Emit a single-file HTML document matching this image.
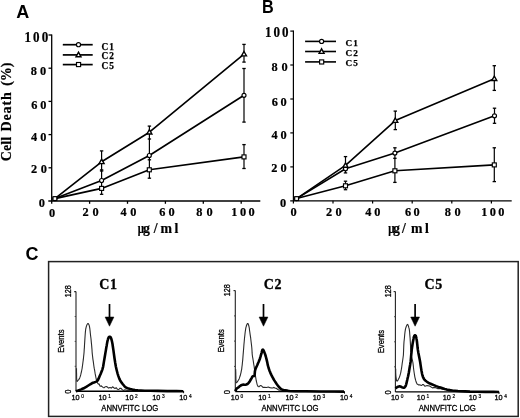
<!DOCTYPE html>
<html><head><meta charset="utf-8"><style>
html,body{margin:0;padding:0;background:#fff;width:520px;height:418px;overflow:hidden}
svg{display:block;will-change:transform;filter:blur(0.3px)}
text{-webkit-font-smoothing:antialiased}
</style></head><body>
<svg width="520" height="418" viewBox="0 0 520 418">
<rect width="520" height="418" fill="#fff"/>
<text x="16.2" y="18.2" font-family="'Liberation Sans',sans-serif" font-size="18" font-weight="bold">A</text>
<text transform="matrix(0.9,0,0,1,261.9,12.7)" font-family="'Liberation Sans',sans-serif" font-weight="bold" font-size="18">B</text>
<text x="25.5" y="259.5" font-family="'Liberation Sans',sans-serif" font-size="18" font-weight="bold">C</text>
<line x1="51.7" y1="34.4" x2="51.7" y2="203.8" stroke="#000" stroke-width="1.3"/>
<line x1="48.3" y1="201" x2="260.3" y2="201" stroke="#000" stroke-width="1.3"/>
<line x1="48.5" y1="167.8" x2="51.7" y2="167.8" stroke="#000" stroke-width="1.3"/>
<line x1="48.5" y1="134.6" x2="51.7" y2="134.6" stroke="#000" stroke-width="1.3"/>
<line x1="48.5" y1="101.4" x2="51.7" y2="101.4" stroke="#000" stroke-width="1.3"/>
<line x1="48.5" y1="68.2" x2="51.7" y2="68.2" stroke="#000" stroke-width="1.3"/>
<line x1="48.5" y1="35" x2="51.7" y2="35" stroke="#000" stroke-width="1.3"/>
<line x1="89.6" y1="201" x2="89.6" y2="203.8" stroke="#000" stroke-width="1.3"/>
<line x1="127.5" y1="201" x2="127.5" y2="203.8" stroke="#000" stroke-width="1.3"/>
<line x1="165.4" y1="201" x2="165.4" y2="203.8" stroke="#000" stroke-width="1.3"/>
<line x1="203.3" y1="201" x2="203.3" y2="203.8" stroke="#000" stroke-width="1.3"/>
<line x1="241.2" y1="201" x2="241.2" y2="203.8" stroke="#000" stroke-width="1.3"/>
<text transform="matrix(0.95,0,0,1,24.5,41.6)" font-family="'Liberation Serif',serif" font-weight="bold" font-size="13.8" letter-spacing="2.15" stroke="#000" stroke-width="0.22">100</text>
<text transform="matrix(0.95,0,0,1,30.8,74.8)" font-family="'Liberation Serif',serif" font-weight="bold" font-size="13.0" letter-spacing="3.3" stroke="#000" stroke-width="0.22">80</text>
<text transform="matrix(0.95,0,0,1,31.2,109.1)" font-family="'Liberation Serif',serif" font-weight="bold" font-size="13.0" letter-spacing="3.1" stroke="#000" stroke-width="0.22">60</text>
<text transform="matrix(0.95,0,0,1,31.1,140.5)" font-family="'Liberation Serif',serif" font-weight="bold" font-size="13.0" letter-spacing="3.15" stroke="#000" stroke-width="0.22">40</text>
<text transform="matrix(0.95,0,0,1,31.1,173.4)" font-family="'Liberation Serif',serif" font-weight="bold" font-size="13.0" letter-spacing="3.73" stroke="#000" stroke-width="0.22">20</text>
<text transform="matrix(0.95,0,0,1,38.7,207.2)" font-family="'Liberation Serif',serif" font-weight="bold" font-size="13.0" letter-spacing="0" stroke="#000" stroke-width="0.22">0</text>
<text transform="matrix(0.95,0,0,1,49,216.5)" font-family="'Liberation Serif',serif" font-weight="bold" font-size="13.0" letter-spacing="0" stroke="#000" stroke-width="0.22">0</text>
<text transform="matrix(0.95,0,0,1,82.5,216.2)" font-family="'Liberation Serif',serif" font-weight="bold" font-size="13.0" letter-spacing="4.15" stroke="#000" stroke-width="0.22">20</text>
<text transform="matrix(0.95,0,0,1,120.6,216.2)" font-family="'Liberation Serif',serif" font-weight="bold" font-size="13.0" letter-spacing="3.67" stroke="#000" stroke-width="0.22">40</text>
<text transform="matrix(0.95,0,0,1,159.2,216.2)" font-family="'Liberation Serif',serif" font-weight="bold" font-size="13.0" letter-spacing="3.31" stroke="#000" stroke-width="0.22">60</text>
<text transform="matrix(0.95,0,0,1,196.3,216.2)" font-family="'Liberation Serif',serif" font-weight="bold" font-size="13.0" letter-spacing="4.14" stroke="#000" stroke-width="0.22">80</text>
<text transform="matrix(0.95,0,0,1,231.3,216.3)" font-family="'Liberation Serif',serif" font-weight="bold" font-size="13.0" letter-spacing="2.6" stroke="#000" stroke-width="0.22">100</text>
<text x="10.9" y="161.3" font-family="'Liberation Serif',serif" font-size="14" font-weight="bold" letter-spacing="0.1" transform="rotate(-90 10.9 161.3)" stroke="#000" stroke-width="0.2">Cell</text>
<text x="10.9" y="131.6" font-family="'Liberation Serif',serif" font-size="14" font-weight="bold" letter-spacing="0.9" transform="rotate(-90 10.9 131.6)" stroke="#000" stroke-width="0.2">Death</text>
<text x="10.9" y="85.8" font-family="'Liberation Serif',serif" font-size="14" font-weight="bold" transform="rotate(-90 10.9 85.8)" stroke="#000" stroke-width="0.2">(%)</text>
<text transform="matrix(0.8,0,0,1,137.7,233.4)" font-family="'Liberation Serif',serif" font-weight="bold" font-size="13.8" stroke="#000" stroke-width="0.2">&#956;</text>
<text transform="matrix(1,0,0,1,142.9,233.4)" font-family="'Liberation Serif',serif" font-weight="bold" font-size="13.8" stroke="#000" stroke-width="0.2">g</text>
<text transform="matrix(1,0,0,1,153.8,233.4)" font-family="'Liberation Serif',serif" font-weight="bold" font-size="13.8" stroke="#000" stroke-width="0.2">/</text>
<text transform="matrix(1,0,0,1,160.5,233.4)" font-family="'Liberation Serif',serif" font-weight="bold" font-size="13.8" stroke="#000" stroke-width="0.2">m</text>
<text transform="matrix(1,0,0,1,174.6,233.4)" font-family="'Liberation Serif',serif" font-weight="bold" font-size="13.8" stroke="#000" stroke-width="0.2">l</text>
<line x1="101.6" y1="150.9" x2="101.6" y2="194.3" stroke="#000" stroke-width="1.2"/>
<line x1="99.9" y1="150.9" x2="103.3" y2="150.9" stroke="#000" stroke-width="1.3"/>
<line x1="99.9" y1="169.9" x2="103.3" y2="169.9" stroke="#000" stroke-width="1.3"/>
<line x1="99.9" y1="171" x2="103.3" y2="171" stroke="#000" stroke-width="1.3"/>
<line x1="99.9" y1="194.3" x2="103.3" y2="194.3" stroke="#000" stroke-width="1.3"/>
<line x1="149.4" y1="126.1" x2="149.4" y2="178.2" stroke="#000" stroke-width="1.2"/>
<line x1="147.7" y1="126.1" x2="151.1" y2="126.1" stroke="#000" stroke-width="1.3"/>
<line x1="147.7" y1="139" x2="151.1" y2="139" stroke="#000" stroke-width="1.3"/>
<line x1="147.7" y1="159.8" x2="151.1" y2="159.8" stroke="#000" stroke-width="1.3"/>
<line x1="147.7" y1="178.2" x2="151.1" y2="178.2" stroke="#000" stroke-width="1.3"/>
<line x1="244" y1="44.4" x2="244" y2="62.1" stroke="#000" stroke-width="1.2"/>
<line x1="242.3" y1="44.4" x2="245.7" y2="44.4" stroke="#000" stroke-width="1.3"/>
<line x1="242.3" y1="62.1" x2="245.7" y2="62.1" stroke="#000" stroke-width="1.3"/>
<line x1="244" y1="68.5" x2="244" y2="122.1" stroke="#000" stroke-width="1.2"/>
<line x1="242.3" y1="68.5" x2="245.7" y2="68.5" stroke="#000" stroke-width="1.3"/>
<line x1="242.3" y1="122.1" x2="245.7" y2="122.1" stroke="#000" stroke-width="1.3"/>
<line x1="244" y1="144.6" x2="244" y2="168.5" stroke="#000" stroke-width="1.2"/>
<line x1="242.3" y1="144.6" x2="245.7" y2="144.6" stroke="#000" stroke-width="1.3"/>
<line x1="242.3" y1="168.5" x2="245.7" y2="168.5" stroke="#000" stroke-width="1.3"/>
<path d="M54.9,198.6 L101.6,161.8 L149.4,132.2 L244,54.1" stroke="#000" stroke-width="1.65" fill="none" stroke-linejoin="round"/>
<path d="M54.9,198.6 L101.6,180.5 L149.3,155.5 L244,95.3" stroke="#000" stroke-width="1.65" fill="none" stroke-linejoin="round"/>
<path d="M54.9,198.6 L101.6,188.4 L149.3,169.8 L244,156.9" stroke="#000" stroke-width="1.65" fill="none" stroke-linejoin="round"/>
<rect x="99.6" y="186.4" width="4" height="4" fill="#fff" stroke="#000" stroke-width="1.15"/>
<rect x="147.3" y="167.8" width="4" height="4" fill="#fff" stroke="#000" stroke-width="1.15"/>
<rect x="242" y="154.9" width="4" height="4" fill="#fff" stroke="#000" stroke-width="1.15"/>
<circle cx="101.6" cy="180.5" r="2.0" fill="#fff" stroke="#000" stroke-width="1.15"/>
<circle cx="149.3" cy="155.5" r="2.0" fill="#fff" stroke="#000" stroke-width="1.15"/>
<circle cx="244" cy="95.3" r="2.0" fill="#fff" stroke="#000" stroke-width="1.15"/>
<path d="M101.6,159.2 L104.1,163.6 L99.1,163.6 Z" fill="#fff" stroke="#000" stroke-width="1.38" stroke-linejoin="miter"/>
<path d="M149.4,129.6 L151.9,134 L146.9,134 Z" fill="#fff" stroke="#000" stroke-width="1.38" stroke-linejoin="miter"/>
<path d="M244,51.5 L246.5,55.9 L241.5,55.9 Z" fill="#fff" stroke="#000" stroke-width="1.38" stroke-linejoin="miter"/>
<circle cx="54.9" cy="198.6" r="2.1" fill="#fff" stroke="#000" stroke-width="1.15"/>
<rect x="53" y="196.7" width="3.8" height="3.8" fill="#fff" stroke="#000" stroke-width="1.15"/>
<line x1="62.8" y1="44.7" x2="92.7" y2="44.7" stroke="#000" stroke-width="1.7"/>
<circle cx="78.5" cy="44.7" r="2.05" fill="#fff" stroke="#000" stroke-width="1.15"/>
<text x="101.6" y="49.8" font-family="'Liberation Serif',serif" font-size="9.3" font-weight="bold" letter-spacing="0.9" stroke="#000" stroke-width="0.25">C1</text>
<line x1="62.8" y1="54.9" x2="92.7" y2="54.9" stroke="#000" stroke-width="1.7"/>
<path d="M78.5,52.2 L81,56.8 L76,56.8 Z" fill="#fff" stroke="#000" stroke-width="1.38" stroke-linejoin="miter"/>
<text x="101.6" y="59" font-family="'Liberation Serif',serif" font-size="9.3" font-weight="bold" letter-spacing="0.9" stroke="#000" stroke-width="0.25">C2</text>
<line x1="62.8" y1="64.6" x2="92.7" y2="64.6" stroke="#000" stroke-width="1.7"/>
<rect x="76.5" y="62.5" width="4.1" height="4.1" fill="#fff" stroke="#000" stroke-width="1.15"/>
<text x="101.6" y="69" font-family="'Liberation Serif',serif" font-size="9.3" font-weight="bold" letter-spacing="0.9" stroke="#000" stroke-width="0.25">C5</text>
<line x1="293.4" y1="30.4" x2="293.4" y2="203.6" stroke="#000" stroke-width="1.2"/>
<line x1="290.2" y1="200.8" x2="511.7" y2="200.8" stroke="#000" stroke-width="1.2"/>
<line x1="290.3" y1="166.9" x2="293.4" y2="166.9" stroke="#000" stroke-width="1.2"/>
<line x1="290.3" y1="132.9" x2="293.4" y2="132.9" stroke="#000" stroke-width="1.2"/>
<line x1="290.3" y1="99" x2="293.4" y2="99" stroke="#000" stroke-width="1.2"/>
<line x1="290.3" y1="65" x2="293.4" y2="65" stroke="#000" stroke-width="1.2"/>
<line x1="290.3" y1="31.1" x2="293.4" y2="31.1" stroke="#000" stroke-width="1.2"/>
<line x1="333" y1="200.8" x2="333" y2="203.6" stroke="#000" stroke-width="1.2"/>
<line x1="372.6" y1="200.8" x2="372.6" y2="203.6" stroke="#000" stroke-width="1.2"/>
<line x1="412.2" y1="200.8" x2="412.2" y2="203.6" stroke="#000" stroke-width="1.2"/>
<line x1="451.8" y1="200.8" x2="451.8" y2="203.6" stroke="#000" stroke-width="1.2"/>
<line x1="491.4" y1="200.8" x2="491.4" y2="203.6" stroke="#000" stroke-width="1.2"/>
<text transform="matrix(0.95,0,0,1,265,37.2)" font-family="'Liberation Serif',serif" font-weight="bold" font-size="13.7" letter-spacing="2.11" stroke="#000" stroke-width="0.22">100</text>
<text transform="matrix(0.95,0,0,1,271.4,71)" font-family="'Liberation Serif',serif" font-weight="bold" font-size="13.0" letter-spacing="4.14" stroke="#000" stroke-width="0.22">80</text>
<text transform="matrix(0.95,0,0,1,271.7,106.2)" font-family="'Liberation Serif',serif" font-weight="bold" font-size="13.0" letter-spacing="2.89" stroke="#000" stroke-width="0.22">60</text>
<text transform="matrix(0.95,0,0,1,271.5,138.9)" font-family="'Liberation Serif',serif" font-weight="bold" font-size="13.0" letter-spacing="3.04" stroke="#000" stroke-width="0.22">40</text>
<text transform="matrix(0.95,0,0,1,271.2,172.3)" font-family="'Liberation Serif',serif" font-weight="bold" font-size="13.0" letter-spacing="3.41" stroke="#000" stroke-width="0.22">20</text>
<text transform="matrix(0.95,0,0,1,279.9,207.2)" font-family="'Liberation Serif',serif" font-weight="bold" font-size="13.0" letter-spacing="0" stroke="#000" stroke-width="0.22">0</text>
<text transform="matrix(0.95,0,0,1,290.5,216)" font-family="'Liberation Serif',serif" font-weight="bold" font-size="13.0" letter-spacing="0" stroke="#000" stroke-width="0.22">0</text>
<text transform="matrix(0.95,0,0,1,326,215.9)" font-family="'Liberation Serif',serif" font-weight="bold" font-size="13.0" letter-spacing="3.51" stroke="#000" stroke-width="0.22">20</text>
<text transform="matrix(0.95,0,0,1,365.2,216.4)" font-family="'Liberation Serif',serif" font-weight="bold" font-size="13.0" letter-spacing="3.04" stroke="#000" stroke-width="0.22">40</text>
<text transform="matrix(0.95,0,0,1,405,216.4)" font-family="'Liberation Serif',serif" font-weight="bold" font-size="13.0" letter-spacing="2.47" stroke="#000" stroke-width="0.22">60</text>
<text transform="matrix(0.95,0,0,1,444.8,216.1)" font-family="'Liberation Serif',serif" font-weight="bold" font-size="13.0" letter-spacing="3.82" stroke="#000" stroke-width="0.22">80</text>
<text transform="matrix(0.95,0,0,1,481.3,215.8)" font-family="'Liberation Serif',serif" font-weight="bold" font-size="13.0" letter-spacing="2.44" stroke="#000" stroke-width="0.22">100</text>
<text transform="matrix(0.8,0,0,1,388.2,232.6)" font-family="'Liberation Serif',serif" font-weight="bold" font-size="13.8" stroke="#000" stroke-width="0.2">&#956;</text>
<text transform="matrix(1,0,0,1,393,232.6)" font-family="'Liberation Serif',serif" font-weight="bold" font-size="13.8" stroke="#000" stroke-width="0.2">g</text>
<text transform="matrix(1,0,0,1,401.9,232.6)" font-family="'Liberation Serif',serif" font-weight="bold" font-size="13.8" stroke="#000" stroke-width="0.2">/</text>
<text transform="matrix(1,0,0,1,411,232.6)" font-family="'Liberation Serif',serif" font-weight="bold" font-size="13.8" stroke="#000" stroke-width="0.2">m</text>
<text transform="matrix(1,0,0,1,425,232.6)" font-family="'Liberation Serif',serif" font-weight="bold" font-size="13.8" stroke="#000" stroke-width="0.2">l</text>
<line x1="345.5" y1="156.6" x2="345.5" y2="173" stroke="#000" stroke-width="1.2"/>
<line x1="343.8" y1="156.6" x2="347.2" y2="156.6" stroke="#000" stroke-width="1.3"/>
<line x1="343.8" y1="172.9" x2="347.2" y2="172.9" stroke="#000" stroke-width="1.3"/>
<line x1="345.5" y1="181.2" x2="345.5" y2="189.7" stroke="#000" stroke-width="1.2"/>
<line x1="343.8" y1="181.2" x2="347.2" y2="181.2" stroke="#000" stroke-width="1.3"/>
<line x1="343.8" y1="189.7" x2="347.2" y2="189.7" stroke="#000" stroke-width="1.3"/>
<line x1="395.3" y1="111.1" x2="395.3" y2="129.6" stroke="#000" stroke-width="1.2"/>
<line x1="393.6" y1="111.1" x2="397" y2="111.1" stroke="#000" stroke-width="1.3"/>
<line x1="393.6" y1="129.6" x2="397" y2="129.6" stroke="#000" stroke-width="1.3"/>
<line x1="394.9" y1="147.8" x2="394.9" y2="182.4" stroke="#000" stroke-width="1.2"/>
<line x1="393.2" y1="147.8" x2="396.6" y2="147.8" stroke="#000" stroke-width="1.3"/>
<line x1="393.2" y1="158.3" x2="396.6" y2="158.3" stroke="#000" stroke-width="1.3"/>
<line x1="393.2" y1="182.4" x2="396.6" y2="182.4" stroke="#000" stroke-width="1.3"/>
<line x1="494.3" y1="65.7" x2="494.3" y2="90.4" stroke="#000" stroke-width="1.2"/>
<line x1="492.6" y1="65.7" x2="496" y2="65.7" stroke="#000" stroke-width="1.3"/>
<line x1="492.6" y1="90.4" x2="496" y2="90.4" stroke="#000" stroke-width="1.3"/>
<line x1="494.5" y1="108.2" x2="494.5" y2="123.3" stroke="#000" stroke-width="1.2"/>
<line x1="492.8" y1="108.2" x2="496.2" y2="108.2" stroke="#000" stroke-width="1.3"/>
<line x1="492.8" y1="123.3" x2="496.2" y2="123.3" stroke="#000" stroke-width="1.3"/>
<line x1="494.3" y1="147.8" x2="494.3" y2="181.6" stroke="#000" stroke-width="1.2"/>
<line x1="492.6" y1="147.8" x2="496" y2="147.8" stroke="#000" stroke-width="1.3"/>
<line x1="492.6" y1="181.6" x2="496" y2="181.6" stroke="#000" stroke-width="1.3"/>
<path d="M296.6,198.6 L345.5,165.4 L395.3,120.6 L494.3,78.7" stroke="#000" stroke-width="1.6" fill="none" stroke-linejoin="round"/>
<path d="M296.6,198.6 L345.5,168.7 L394.9,153.1 L494.5,115.8" stroke="#000" stroke-width="1.6" fill="none" stroke-linejoin="round"/>
<path d="M296.6,198.6 L345.5,185.8 L394.9,170.8 L494.3,164.9" stroke="#000" stroke-width="1.6" fill="none" stroke-linejoin="round"/>
<rect x="343.5" y="183.8" width="4" height="4" fill="#fff" stroke="#000" stroke-width="1.15"/>
<rect x="392.9" y="168.8" width="4" height="4" fill="#fff" stroke="#000" stroke-width="1.15"/>
<rect x="492.3" y="162.9" width="4" height="4" fill="#fff" stroke="#000" stroke-width="1.15"/>
<circle cx="345.5" cy="168.7" r="2.0" fill="#fff" stroke="#000" stroke-width="1.15"/>
<circle cx="394.9" cy="153.1" r="2.0" fill="#fff" stroke="#000" stroke-width="1.15"/>
<circle cx="494.5" cy="115.8" r="2.0" fill="#fff" stroke="#000" stroke-width="1.15"/>
<path d="M345.5,162.8 L348,167.2 L343,167.2 Z" fill="#fff" stroke="#000" stroke-width="1.38" stroke-linejoin="miter"/>
<path d="M395.3,118 L397.8,122.4 L392.8,122.4 Z" fill="#fff" stroke="#000" stroke-width="1.38" stroke-linejoin="miter"/>
<path d="M494.3,76.1 L496.8,80.5 L491.8,80.5 Z" fill="#fff" stroke="#000" stroke-width="1.38" stroke-linejoin="miter"/>
<circle cx="296.6" cy="198.6" r="2.1" fill="#fff" stroke="#000" stroke-width="1.15"/>
<rect x="294.7" y="196.7" width="3.8" height="3.8" fill="#fff" stroke="#000" stroke-width="1.15"/>
<line x1="305.1" y1="41.4" x2="336" y2="41.4" stroke="#000" stroke-width="1.6"/>
<circle cx="321.6" cy="41.4" r="2.05" fill="#fff" stroke="#000" stroke-width="1.15"/>
<text x="345.6" y="46.3" font-family="'Liberation Serif',serif" font-size="9.2" font-weight="bold" letter-spacing="0.9" stroke="#000" stroke-width="0.25">C1</text>
<line x1="305.1" y1="51.5" x2="336" y2="51.5" stroke="#000" stroke-width="1.6"/>
<path d="M321.6,48.8 L324.1,53.4 L319.1,53.4 Z" fill="#fff" stroke="#000" stroke-width="1.38" stroke-linejoin="miter"/>
<text x="345.6" y="55.9" font-family="'Liberation Serif',serif" font-size="9.2" font-weight="bold" letter-spacing="0.9" stroke="#000" stroke-width="0.25">C2</text>
<line x1="305.1" y1="61.9" x2="336" y2="61.9" stroke="#000" stroke-width="1.6"/>
<rect x="319.6" y="59.9" width="4.1" height="4.1" fill="#fff" stroke="#000" stroke-width="1.15"/>
<text x="345.6" y="66" font-family="'Liberation Serif',serif" font-size="9.2" font-weight="bold" letter-spacing="0.9" stroke="#000" stroke-width="0.25">C5</text>
<rect x="48.6" y="261.6" width="469.6" height="154.8" fill="none" stroke="#222" stroke-width="1.5"/>
<line x1="76" y1="291.6" x2="76" y2="391.2" stroke="#222" stroke-width="1.1"/>
<line x1="74.2" y1="291.6" x2="76" y2="291.6" stroke="#222" stroke-width="1.1"/>
<line x1="74.7" y1="316.5" x2="76" y2="316.5" stroke="#444" stroke-width="1.0"/>
<line x1="74.7" y1="341.4" x2="76" y2="341.4" stroke="#444" stroke-width="1.0"/>
<line x1="74.7" y1="366.3" x2="76" y2="366.3" stroke="#444" stroke-width="1.0"/>
<line x1="76" y1="391.2" x2="183.6" y2="391.2" stroke="#000" stroke-width="1.4"/>
<line x1="183.6" y1="391" x2="183.6" y2="393.2" stroke="#000" stroke-width="1.0"/>
<text transform="translate(71.1,297.2) rotate(-90) scale(0.86,1)" font-family="'Liberation Sans',sans-serif" font-size="8.4" stroke="#000" stroke-width="0.3">128</text>
<text transform="translate(71.1,393.8) rotate(-90) scale(0.9,1)" font-family="'Liberation Sans',sans-serif" font-size="8.4" stroke="#000" stroke-width="0.3">0</text>
<text transform="translate(64.3,341.2) rotate(-90) scale(0.92,1)" text-anchor="middle" font-family="'Liberation Sans',sans-serif" font-size="8.3" stroke="#000" stroke-width="0.3">Events</text>
<text x="75.6" y="400.4" font-family="'Liberation Sans',sans-serif" font-size="7.3" text-anchor="middle" stroke="#000" stroke-width="0.3">10</text>
<text x="81.3" y="397.6" font-family="'Liberation Sans',sans-serif" font-size="4.8" stroke="#000" stroke-width="0.2">0</text>
<text x="102.5" y="400.4" font-family="'Liberation Sans',sans-serif" font-size="7.3" text-anchor="middle" stroke="#000" stroke-width="0.3">10</text>
<text x="108.2" y="397.6" font-family="'Liberation Sans',sans-serif" font-size="4.8" stroke="#000" stroke-width="0.2">1</text>
<text x="129.4" y="400.4" font-family="'Liberation Sans',sans-serif" font-size="7.3" text-anchor="middle" stroke="#000" stroke-width="0.3">10</text>
<text x="135.1" y="397.6" font-family="'Liberation Sans',sans-serif" font-size="4.8" stroke="#000" stroke-width="0.2">2</text>
<text x="156.3" y="400.4" font-family="'Liberation Sans',sans-serif" font-size="7.3" text-anchor="middle" stroke="#000" stroke-width="0.3">10</text>
<text x="162" y="397.6" font-family="'Liberation Sans',sans-serif" font-size="4.8" stroke="#000" stroke-width="0.2">3</text>
<text x="183.2" y="400.4" font-family="'Liberation Sans',sans-serif" font-size="7.3" text-anchor="middle" stroke="#000" stroke-width="0.3">10</text>
<text x="188.9" y="397.6" font-family="'Liberation Sans',sans-serif" font-size="4.8" stroke="#000" stroke-width="0.2">4</text>
<text x="129.8" y="411.4" font-family="'Liberation Sans',sans-serif" font-size="8.4" text-anchor="middle" textLength="57" lengthAdjust="spacingAndGlyphs" stroke="#000" stroke-width="0.3">ANNVFITC LOG</text>
<text x="99.2" y="288.8" font-family="'Liberation Serif',serif" font-size="14" font-weight="bold" letter-spacing="0.6" stroke="#000" stroke-width="0.3">C1</text>
<line x1="109.5" y1="304" x2="109.5" y2="318" stroke="#000" stroke-width="1.7"/>
<path d="M105.1,317 L113.9,317 L109.5,326.2 Z" stroke="#000" stroke-width="0.5" fill="#000" stroke-linejoin="round"/>
<path d="M76.5,368.3 L76.5,369.7 L76.5,371.8 L76.6,374.1 L76.6,376 L76.6,377.6 L76.7,379.1 L76.8,380.4 L76.9,381.2 L77.1,381.5 L77.2,381.4 L77.5,381 L77.8,380.6 L78.2,380.2 L78.7,379.6 L79.2,378.9 L79.7,377.9 L80.2,376.6 L80.7,374.9 L81.1,373.2 L81.5,371.5 L81.8,370 L82.1,368.5 L82.3,366.9 L82.6,365 L82.9,362.5 L83.3,359.7 L83.6,356.7 L83.9,354 L84.1,351.7 L84.2,349.6 L84.4,347.4 L84.5,345 L84.7,342.1 L84.9,338.8 L85.1,335.7 L85.3,333 L85.5,330.9 L85.7,329.2 L86,327.8 L86.3,326.6 L86.7,325.4 L87.1,324.5 L87.6,323.8 L88,323.5 L88.4,323.8 L88.8,324.5 L89.2,325.4 L89.5,326.6 L89.7,327.8 L89.9,329.2 L90.1,330.9 L90.3,333 L90.6,335.7 L91,338.8 L91.3,342.1 L91.6,345 L91.8,347.4 L92,349.6 L92.1,351.8 L92.3,354 L92.6,356.5 L92.9,359.1 L93.3,361.6 L93.6,364 L93.9,366.2 L94.2,368.2 L94.6,370.1 L94.9,372 L95.2,373.9 L95.6,375.8 L95.9,377.5 L96.2,379 L96.5,380.2 L96.8,381.1 L97,381.8 L97.3,382.5 L97.6,383 L97.8,383.4 L98.2,383.8 L98.6,384.2 L99.2,384 L99.9,385.9 L100.6,386.2 L101.3,385.8 L101.9,386.6 L102.4,386.8 L103.1,387.4 L104,387.8 L105.3,386.7 L106.9,386.6 L108.5,388.1 L110,387.4 L111.3,388.1 L112.6,386.8 L113.8,387.7 L115,388.4 L116.2,387.7 L117.5,389.3 L118.8,389.5 L120,388.2 L121.1,388.4 L122.2,389.6 L123.4,390.6 L125,389.8 L126.3,390.2 L127.3,390.4 L129.7,390.6 L135,390.8 L145.5,390.9 L159.6,391.1 L173.5,391.1 L183,391.2" stroke="#2a2a2a" stroke-width="1.1" fill="none" stroke-linejoin="round"/>
<path d="M75.8,391.2 L76.8,390.9 L78.2,390.5 L79.8,389.9 L81.2,389.4 L82.5,388.8 L83.7,388.3 L84.9,387.6 L86.2,386.9 L87.6,386 L89.1,385 L90.6,384.1 L91.9,383.3 L93,382.8 L93.9,382.5 L94.7,382.2 L95.5,381.9 L96.2,381.6 L96.7,381.3 L97.2,381 L97.7,380.4 L98.2,379.5 L98.7,378.4 L99.2,377.2 L99.8,375.8 L100.5,374.3 L101.2,372.5 L101.9,370.8 L102.4,369.3 L102.7,368.3 L102.9,367.7 L103.1,366.8 L103.4,365 L103.9,361.9 L104.6,357.8 L105.3,353.6 L105.9,350.1 L106.3,347.5 L106.7,345.4 L107,343.6 L107.3,342 L107.6,340.6 L107.9,339.6 L108.1,338.7 L108.4,338 L108.7,337.4 L109,337 L109.4,336.8 L109.7,336.7 L110,336.8 L110.4,337 L110.7,337.4 L111,338 L111.3,338.8 L111.6,339.9 L111.9,341.1 L112.2,342.5 L112.5,344 L112.7,345.5 L113,347.5 L113.4,350.1 L113.9,353.8 L114.5,358.2 L115.2,362.8 L115.9,366.8 L116.7,370.2 L117.5,373.3 L118.4,376.1 L119.3,378.6 L120.3,380.7 L121.4,382.4 L122.5,383.8 L123.5,385 L124.3,386 L125,386.8 L125.8,387.4 L127,388 L128.5,388.6 L130.3,389.1 L132.4,389.6 L135,390 L137.8,390.3 L140.9,390.5 L144.8,390.7 L150,390.8 L157.8,390.9 L167.4,391.1 L176.6,391.1 L183,391.2" stroke="#000" stroke-width="2.6" fill="none" stroke-linejoin="round"/>
<line x1="235.3" y1="290.6" x2="235.3" y2="391.6" stroke="#222" stroke-width="1.1"/>
<line x1="233.5" y1="290.6" x2="235.3" y2="290.6" stroke="#222" stroke-width="1.1"/>
<line x1="234" y1="315.9" x2="235.3" y2="315.9" stroke="#444" stroke-width="1.0"/>
<line x1="234" y1="341.1" x2="235.3" y2="341.1" stroke="#444" stroke-width="1.0"/>
<line x1="234" y1="366.4" x2="235.3" y2="366.4" stroke="#444" stroke-width="1.0"/>
<line x1="235.3" y1="391.6" x2="344.5" y2="391.6" stroke="#000" stroke-width="1.4"/>
<line x1="344.5" y1="391.4" x2="344.5" y2="393.6" stroke="#000" stroke-width="1.0"/>
<text transform="translate(230.4,296.2) rotate(-90) scale(0.86,1)" font-family="'Liberation Sans',sans-serif" font-size="8.4" stroke="#000" stroke-width="0.3">128</text>
<text transform="translate(230.4,394.2) rotate(-90) scale(0.9,1)" font-family="'Liberation Sans',sans-serif" font-size="8.4" stroke="#000" stroke-width="0.3">0</text>
<text transform="translate(223.6,340.9) rotate(-90) scale(0.92,1)" text-anchor="middle" font-family="'Liberation Sans',sans-serif" font-size="8.3" stroke="#000" stroke-width="0.3">Events</text>
<text x="234.9" y="400.4" font-family="'Liberation Sans',sans-serif" font-size="7.3" text-anchor="middle" stroke="#000" stroke-width="0.3">10</text>
<text x="240.6" y="397.6" font-family="'Liberation Sans',sans-serif" font-size="4.8" stroke="#000" stroke-width="0.2">0</text>
<text x="262.2" y="400.4" font-family="'Liberation Sans',sans-serif" font-size="7.3" text-anchor="middle" stroke="#000" stroke-width="0.3">10</text>
<text x="267.9" y="397.6" font-family="'Liberation Sans',sans-serif" font-size="4.8" stroke="#000" stroke-width="0.2">1</text>
<text x="289.5" y="400.4" font-family="'Liberation Sans',sans-serif" font-size="7.3" text-anchor="middle" stroke="#000" stroke-width="0.3">10</text>
<text x="295.2" y="397.6" font-family="'Liberation Sans',sans-serif" font-size="4.8" stroke="#000" stroke-width="0.2">2</text>
<text x="316.8" y="400.4" font-family="'Liberation Sans',sans-serif" font-size="7.3" text-anchor="middle" stroke="#000" stroke-width="0.3">10</text>
<text x="322.5" y="397.6" font-family="'Liberation Sans',sans-serif" font-size="4.8" stroke="#000" stroke-width="0.2">3</text>
<text x="344.1" y="400.4" font-family="'Liberation Sans',sans-serif" font-size="7.3" text-anchor="middle" stroke="#000" stroke-width="0.3">10</text>
<text x="349.8" y="397.6" font-family="'Liberation Sans',sans-serif" font-size="4.8" stroke="#000" stroke-width="0.2">4</text>
<text x="289.9" y="411.4" font-family="'Liberation Sans',sans-serif" font-size="8.4" text-anchor="middle" textLength="57" lengthAdjust="spacingAndGlyphs" stroke="#000" stroke-width="0.3">ANNVFITC LOG</text>
<text x="263.8" y="288.8" font-family="'Liberation Serif',serif" font-size="14" font-weight="bold" letter-spacing="0.6" stroke="#000" stroke-width="0.3">C2</text>
<line x1="263.5" y1="304" x2="263.5" y2="318" stroke="#000" stroke-width="1.7"/>
<path d="M259.1,317 L267.9,317 L263.5,326.2 Z" stroke="#000" stroke-width="0.5" fill="#000" stroke-linejoin="round"/>
<path d="M235.7,369.2 L235.7,370.7 L235.8,372.8 L235.8,375 L235.9,377 L235.9,378.7 L236,380.4 L236,381.7 L236.2,382.6 L236.5,382.8 L236.8,382.5 L237.2,382 L237.6,381.4 L238,380.8 L238.4,380.2 L238.9,379.4 L239.3,378.4 L239.7,377.2 L240.2,375.8 L240.6,374.2 L241,372.6 L241.3,370.9 L241.7,369.1 L241.9,367.1 L242.2,365 L242.4,362.7 L242.7,360.1 L242.9,357.6 L243.1,355 L243.3,352.6 L243.5,350.2 L243.7,347.7 L243.9,345 L244.2,341.8 L244.5,338.2 L244.9,334.8 L245.2,332 L245.5,330.1 L245.7,328.7 L245.9,327.6 L246.2,326.6 L246.5,325.5 L246.9,324.5 L247.3,323.8 L247.7,323.5 L248.1,323.8 L248.4,324.5 L248.7,325.5 L249,326.6 L249.2,327.6 L249.4,328.7 L249.5,330.1 L249.8,332 L250.2,334.8 L250.7,338.2 L251.1,341.8 L251.5,345 L251.8,347.8 L252,350.5 L252.1,352.9 L252.3,355 L252.5,356.5 L252.7,357.6 L252.9,358.6 L253.1,360 L253.4,361.9 L253.7,364 L254.1,366.2 L254.4,368.4 L254.7,370.5 L255,372.7 L255.3,374.8 L255.6,376.8 L255.9,378.7 L256.2,380.5 L256.6,382.2 L256.9,383.5 L257.1,384.4 L257.3,384.9 L257.5,385.2 L258.1,386.4 L259,386.8 L260.2,385.5 L261.5,385.8 L263,387.4 L264.6,387.4 L266.5,387.5 L268.3,387 L270,387.7 L271.4,387.9 L272.6,388 L273.8,387.4 L275,388.1 L276.2,388.3 L277.5,389.2 L278.8,390.1 L280,390.3 L281,389.9 L281.9,389.9 L283,389.9 L285,389.7 L287.4,389.9 L290.1,390.9 L294,391.1 L300,391.3 L310,391.4 L322.9,391.5 L335.4,391.6 L344,391.6" stroke="#2a2a2a" stroke-width="1.1" fill="none" stroke-linejoin="round"/>
<path d="M235.5,391.2 L235.6,390.8 L235.9,390.1 L236.1,389.5 L236.4,388.9 L236.7,388.5 L237.1,388.3 L237.5,388 L238,387.7 L238.5,387.3 L239,386.9 L239.5,386.4 L240.1,386 L240.7,385.6 L241.3,385.2 L241.9,384.9 L242.6,384.7 L243.3,384.6 L244.1,384.7 L244.9,384.8 L245.6,384.7 L246.3,384.5 L246.9,384.3 L247.5,384 L248.1,383.5 L248.6,382.9 L249.2,382.2 L249.7,381.4 L250.2,380.5 L250.8,379.5 L251.5,378.3 L252.1,377.1 L252.7,376.3 L253.2,376 L253.7,376 L254.1,376 L254.4,375.5 L254.6,374.4 L254.8,373 L254.9,371.4 L255.2,370 L255.6,368.7 L256.1,367.5 L256.7,366.3 L257.3,365 L257.9,363.5 L258.6,362 L259.2,360.5 L259.8,359 L260.2,357.7 L260.6,356.4 L260.9,355.2 L261.3,354 L261.7,352.6 L262,351.1 L262.4,349.9 L262.9,349.6 L263.5,350.4 L264.3,352.1 L265.1,354.2 L265.8,356.5 L266.5,359.1 L267.2,362.1 L267.8,365.2 L268.6,368 L269.4,370.4 L270.3,372.6 L271.2,374.6 L272.2,376.6 L273.2,378.5 L274.3,380.4 L275.4,382.1 L276.5,383.7 L277.6,385.2 L278.7,386.6 L279.7,387.8 L280.8,388.8 L281.7,389.4 L282.5,389.8 L283.5,390.1 L285,390.3 L286.2,390.6 L287.2,390.8 L289.6,391 L295,391.2 L305.7,391.3 L320.1,391.5 L334.3,391.5 L344,391.6" stroke="#000" stroke-width="2.6" fill="none" stroke-linejoin="round"/>
<line x1="395.4" y1="291.6" x2="395.4" y2="391.9" stroke="#222" stroke-width="1.1"/>
<line x1="393.6" y1="291.6" x2="395.4" y2="291.6" stroke="#222" stroke-width="1.1"/>
<line x1="394.1" y1="316.7" x2="395.4" y2="316.7" stroke="#444" stroke-width="1.0"/>
<line x1="394.1" y1="341.8" x2="395.4" y2="341.8" stroke="#444" stroke-width="1.0"/>
<line x1="394.1" y1="366.8" x2="395.4" y2="366.8" stroke="#444" stroke-width="1.0"/>
<line x1="395.4" y1="391.9" x2="499" y2="391.9" stroke="#000" stroke-width="1.4"/>
<line x1="499" y1="391.7" x2="499" y2="393.9" stroke="#000" stroke-width="1.0"/>
<text transform="translate(390.5,297.2) rotate(-90) scale(0.86,1)" font-family="'Liberation Sans',sans-serif" font-size="8.4" stroke="#000" stroke-width="0.3">128</text>
<text transform="translate(390.5,394.5) rotate(-90) scale(0.9,1)" font-family="'Liberation Sans',sans-serif" font-size="8.4" stroke="#000" stroke-width="0.3">0</text>
<text transform="translate(383.7,341.6) rotate(-90) scale(0.92,1)" text-anchor="middle" font-family="'Liberation Sans',sans-serif" font-size="8.3" stroke="#000" stroke-width="0.3">Events</text>
<text x="395" y="400.4" font-family="'Liberation Sans',sans-serif" font-size="7.3" text-anchor="middle" stroke="#000" stroke-width="0.3">10</text>
<text x="400.7" y="397.6" font-family="'Liberation Sans',sans-serif" font-size="4.8" stroke="#000" stroke-width="0.2">0</text>
<text x="420.9" y="400.4" font-family="'Liberation Sans',sans-serif" font-size="7.3" text-anchor="middle" stroke="#000" stroke-width="0.3">10</text>
<text x="426.6" y="397.6" font-family="'Liberation Sans',sans-serif" font-size="4.8" stroke="#000" stroke-width="0.2">1</text>
<text x="446.8" y="400.4" font-family="'Liberation Sans',sans-serif" font-size="7.3" text-anchor="middle" stroke="#000" stroke-width="0.3">10</text>
<text x="452.5" y="397.6" font-family="'Liberation Sans',sans-serif" font-size="4.8" stroke="#000" stroke-width="0.2">2</text>
<text x="472.7" y="400.4" font-family="'Liberation Sans',sans-serif" font-size="7.3" text-anchor="middle" stroke="#000" stroke-width="0.3">10</text>
<text x="478.4" y="397.6" font-family="'Liberation Sans',sans-serif" font-size="4.8" stroke="#000" stroke-width="0.2">3</text>
<text x="498.6" y="400.4" font-family="'Liberation Sans',sans-serif" font-size="7.3" text-anchor="middle" stroke="#000" stroke-width="0.3">10</text>
<text x="504.3" y="397.6" font-family="'Liberation Sans',sans-serif" font-size="4.8" stroke="#000" stroke-width="0.2">4</text>
<text x="447.2" y="411.4" font-family="'Liberation Sans',sans-serif" font-size="8.4" text-anchor="middle" textLength="57" lengthAdjust="spacingAndGlyphs" stroke="#000" stroke-width="0.3">ANNVFITC LOG</text>
<text x="424.6" y="288.8" font-family="'Liberation Serif',serif" font-size="14" font-weight="bold" letter-spacing="0.6" stroke="#000" stroke-width="0.3">C5</text>
<line x1="415.1" y1="304" x2="415.1" y2="318" stroke="#000" stroke-width="1.7"/>
<path d="M410.7,317 L419.5,317 L415.1,326.2 Z" stroke="#000" stroke-width="0.5" fill="#000" stroke-linejoin="round"/>
<path d="M395.7,368.8 L395.7,370.1 L395.7,372.1 L395.8,374.2 L395.9,376 L396.1,377.6 L396.3,379.1 L396.5,380.3 L396.8,381 L397.1,381.1 L397.6,380.7 L398,380.1 L398.4,379.3 L398.8,378.5 L399.3,377.5 L399.7,376.3 L400.1,375.1 L400.5,373.7 L400.8,372.3 L401.1,370.7 L401.4,369.2 L401.6,367.8 L401.8,366.5 L402,365 L402.2,363.4 L402.5,361.5 L402.8,359.5 L403.1,357.3 L403.4,355 L403.5,352.7 L403.6,350.3 L403.7,347.7 L403.8,345 L404,341.8 L404.4,338.2 L404.7,334.8 L405,332 L405.3,330.1 L405.5,328.8 L405.8,327.9 L406.1,327 L406.4,326.1 L406.8,325.2 L407.2,324.6 L407.5,324.4 L407.8,324.6 L408.1,325.2 L408.4,326.1 L408.7,327 L408.9,327.9 L409.2,328.9 L409.4,330.1 L409.6,332 L409.8,334.8 L410.1,338.2 L410.3,341.8 L410.5,345 L410.6,347.8 L410.8,350.4 L410.9,352.8 L411.1,355 L411.5,356.9 L411.9,358.6 L412.4,360.2 L412.8,362 L413.1,364.1 L413.4,366.5 L413.6,368.8 L413.9,371 L414.2,373 L414.5,374.9 L414.8,376.8 L415.2,378.5 L415.6,380.2 L416.1,381.8 L416.7,383.2 L417.3,384.3 L418,384.4 L418.9,385.1 L419.8,384.8 L420.7,385.3 L421.6,385.5 L422.4,384.6 L423.5,384.6 L425,386.3 L427.1,385.6 L429.6,386 L432.4,387.9 L435,387.4 L437.5,388.6 L440,388.5 L442.5,389.3 L445,388.9 L447.4,390.2 L449.7,391 L452.1,390.7 L455,391.4 L458.1,391.2 L461.3,391.3 L465.1,391.4 L470,391.5 L476.9,391.6 L485.4,391.7 L493.5,391.8 L499,391.9" stroke="#2a2a2a" stroke-width="1.1" fill="none" stroke-linejoin="round"/>
<path d="M395.6,388.5 L395.7,388.4 L395.9,388.2 L396.1,387.9 L396.4,387.7 L396.7,387.5 L397.1,387.2 L397.5,387 L398,386.8 L398.5,386.6 L399,386.5 L399.6,386.4 L400.1,386.4 L400.5,386.5 L401,386.7 L401.4,387 L401.8,387.2 L402.3,387.4 L402.9,387.6 L403.4,387.7 L403.9,387.7 L404.4,387.5 L404.8,387.1 L405.2,386.7 L405.6,386 L405.9,385.2 L406.2,384.3 L406.5,383.1 L406.8,381.8 L407.2,380.1 L407.6,378.2 L408.1,376.2 L408.5,374.2 L408.9,372.3 L409.2,370.4 L409.5,368.5 L409.8,366.7 L410.1,365 L410.3,363.5 L410.6,361.9 L410.8,360 L411,357.7 L411.2,355.1 L411.5,352.4 L411.7,350 L412,347.8 L412.3,345.7 L412.6,343.8 L412.9,342 L413.2,340.4 L413.5,338.9 L413.7,337.6 L414,336.6 L414.3,335.9 L414.5,335.5 L414.8,335.3 L415,335.2 L415.2,335.3 L415.5,335.5 L415.8,335.9 L416,336.6 L416.3,337.6 L416.5,338.9 L416.8,340.4 L417,342 L417.2,343.8 L417.4,345.7 L417.6,347.8 L417.9,350 L418.3,352.4 L418.8,355 L419.3,357.6 L419.8,360 L420.2,362.2 L420.5,364.4 L420.8,366.4 L421.1,368.4 L421.4,370.3 L421.8,372.2 L422.1,374 L422.5,375.5 L422.9,376.7 L423.3,377.7 L423.7,378.5 L424.2,379.3 L424.8,380 L425.5,380.7 L426.3,381.3 L427,381.8 L427.6,382.2 L428.1,382.6 L428.9,383 L430,383.5 L431.7,384.2 L433.9,385.1 L436.2,386.1 L438.4,386.9 L440.5,387.6 L442.6,388.3 L444.7,389 L446.8,389.5 L448.7,389.9 L450.5,390.2 L452.5,390.5 L455,390.7 L457.9,391 L461.2,391.2 L465.1,391.4 L470,391.6 L476.9,391.7 L485.4,391.9 L493.5,391.9 L499,392" stroke="#000" stroke-width="2.6" fill="none" stroke-linejoin="round"/>
</svg>
</body></html>
